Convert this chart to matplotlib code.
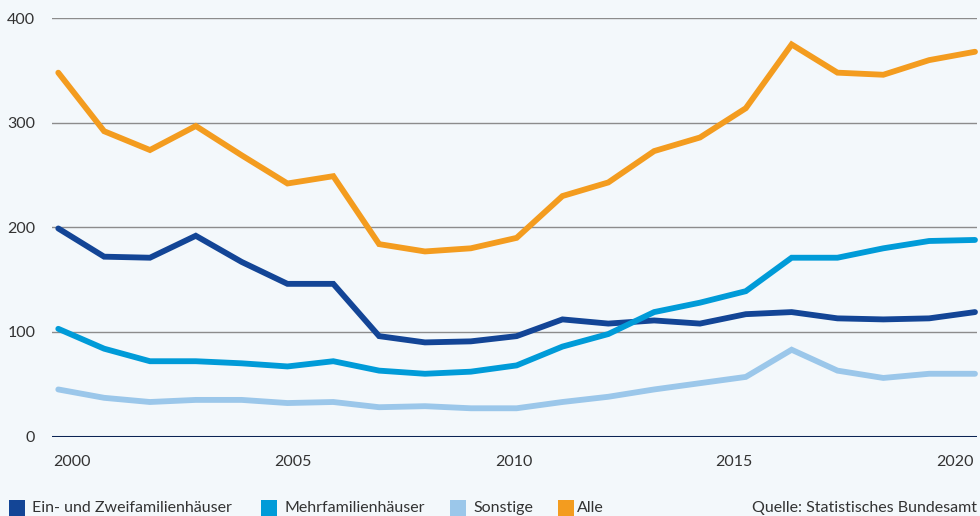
import numpy as np
import matplotlib
matplotlib.use("Agg")
import matplotlib.pyplot as plt
from matplotlib.patches import Rectangle

years = list(range(2000, 2021))
ein_zwei = [199, 172, 171, 192, 167, 146, 146, 96, 90, 91, 96, 112, 108, 111, 108, 117, 119, 113, 112, 113, 119]
mehr = [103, 84, 72, 72, 70, 67, 72, 63, 60, 62, 68, 86, 98, 119, 128, 139, 171, 171, 180, 187, 188]
sonstige = [45, 37, 33, 35, 35, 32, 33, 28, 29, 27, 27, 33, 38, 45, 51, 57, 83, 63, 56, 60, 60]
alle = [348, 292, 274, 297, 269, 242, 249, 184, 177, 180, 190, 230, 243, 273, 286, 314, 375, 348, 346, 360, 368]

series_names = ["Ein- und Zweifamilienhäuser", "Mehrfamilienhäuser", "Sonstige", "Alle"]
colors = ["#134596", "#009bd8", "#9bc7ea", "#f39c1f"]
x_labels = ["2000", "2005", "2010", "2015", "2020"]
y_ticks = [0, 100, 200, 300, 400]
source = "Quelle: Statistisches Bundesamt"

BG = "#f3f8fb"
TXT = "#333333"
plt.rcParams["font.family"] = ["Lato", "DejaVu Sans"]

W, H = 980, 516
fig = plt.figure(figsize=(W / 100, H / 100), dpi=100, facecolor=BG)

def px(x0, y0, x1, y1):
    return [x0 / W, 1 - y1 / H, (x1 - x0) / W, (y1 - y0) / H]

ax = fig.add_axes(px(52, 18.3, 977, 436.5))
ax.set_facecolor(BG)

for name, vals, c in zip(series_names, [ein_zwei, mehr, sonstige, alle], colors):
    ax.plot(years, vals, color=c, lw=4.2, solid_capstyle="round",
            solid_joinstyle="miter", clip_on=False, zorder=3)

ax.set_ylim(0, 400)
ax.set_xlim(1999.863, 2020.044)
ax.set_yticks(y_ticks)
ax.set_yticklabels([str(v) for v in y_ticks])
ax.grid(axis="y", color="#8c8c8c", lw=1.0, zorder=1)
ax.axhline(0, color="#0b2454", lw=2.2, zorder=4)

# tick labels spread evenly across the axis (edge labels flush with axis ends)
tick_pos = np.linspace(2000.30, 2019.56, len(x_labels))
ax.set_xticks(tick_pos)
ax.set_xticklabels(x_labels)

for s in ax.spines.values():
    s.set_visible(False)
ax.tick_params(axis="both", length=0, labelsize=11.5, labelcolor=TXT)
ax.tick_params(axis="y", pad=12)
ax.tick_params(axis="x", pad=13)

# legend row at bottom
leg_items = [(9, 32), (261, 285), (450, 473), (558, 577)]
for (sx, tx), name, c in zip(leg_items, series_names, colors):
    fig.patches.append(Rectangle((sx / W, 1 - 516 / H), 16 / W, 16 / H,
                                 transform=fig.transFigure, color=c, lw=0))
    fig.text(tx / W, 1 - 508 / H, name, ha="left", va="center",
             fontsize=11.5, color=TXT)
fig.text(977 / W, 1 - 508 / H, source, ha="right", va="center",
         fontsize=11.5, color=TXT)

fig.savefig("out.png", dpi=100, facecolor=BG)
